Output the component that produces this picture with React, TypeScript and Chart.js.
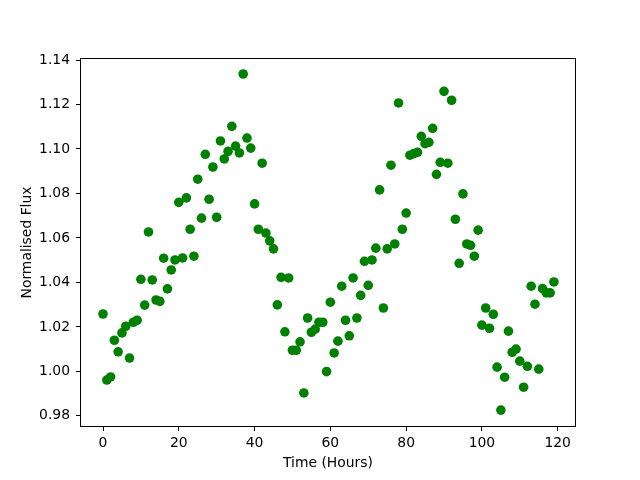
import React, { useEffect, useRef } from "react";
import { Chart, registerables } from "chart.js";

Chart.register(...registerables);

const hours: number[] = [
  0, 1, 2, 3, 4, 5, 6, 7, 8, 9, 10, 11, 12, 13, 14, 15, 16, 17, 18, 19,
  20, 21, 22, 23, 24, 25, 26, 27, 28, 29, 30, 31, 32, 33, 34, 35, 36, 37, 38, 39,
  40, 41, 42, 43, 44, 45, 46, 47, 48, 49, 50, 51, 52, 53, 54, 55, 56, 57, 58, 59,
  60, 61, 62, 63, 64, 65, 66, 67, 68, 69, 70, 71, 72, 73, 74, 75, 76, 77, 78, 79,
  80, 81, 82, 83, 84, 85, 86, 87, 88, 89, 90, 91, 92, 93, 94, 95, 96, 97, 98, 99,
  100, 101, 102, 103, 104, 105, 106, 107, 108, 109, 110, 111, 112, 113, 114, 115, 116, 117, 118, 119,
];

const flux: number[] = [
  1.0258, 0.9961, 0.9975, 1.014, 1.0088, 1.0173, 1.0203, 1.006, 1.0221, 1.023,
  1.0414, 1.0298, 1.0627, 1.0411, 1.0321, 1.0315, 1.0509, 1.0371, 1.0456, 1.0501,
  1.076, 1.051, 1.078, 1.0639, 1.0518, 1.0864, 1.0689, 1.0976, 1.0774, 1.0919,
  1.0693, 1.1036, 1.0955, 1.0989, 1.1102, 1.1013, 1.0982, 1.1337, 1.1049, 1.1004,
  1.0753, 1.0639, 1.0936, 1.0622, 1.0587, 1.0551, 1.0299, 1.0423, 1.0178, 1.042,
  1.0095, 1.0095, 1.0133, 0.9903, 1.024, 1.0176, 1.019, 1.0221, 1.0221, 0.9999,
  1.0311, 1.0083, 1.0136, 1.0383, 1.023, 1.016, 1.042, 1.024, 1.0342, 1.0495,
  1.0387, 1.0501, 1.0554, 1.0816, 1.0285, 1.0551, 1.0927, 1.0573, 1.1207, 1.0639,
  1.0712, 1.0972, 1.0979, 1.0985, 1.1057, 1.1024, 1.103, 1.1093, 1.0886, 1.094,
  1.1259, 1.0936, 1.1219, 1.0684, 1.0486, 1.0798, 1.0573, 1.0567, 1.0518, 1.0635,
  1.0208, 1.0285, 1.0194, 1.0257, 1.0019, 0.9826, 0.9974, 1.0181, 1.0086, 1.01,
  1.0046, 0.9929, 1.0023, 1.0383, 1.0302, 1.001, 1.0372, 1.0353, 1.0353, 1.0402,
];

const xLabel = "Time (Hours)";
const yLabel = "Normalised Flux";

const frame = {
  id: "frame",
  afterDraw(chart: any) {
    const { ctx, chartArea: a } = chart;
    ctx.save();
    ctx.strokeStyle = "#000";
    ctx.lineWidth = 1;
    ctx.strokeRect(a.left + 0.5, a.top + 0.5, a.right - a.left - 1, a.bottom - a.top - 1);
    ctx.restore();
  },
};

export default function App() {
  const ref = useRef<HTMLCanvasElement>(null);
  useEffect(() => {
    if (!ref.current) return;
    const font = { family: "'DejaVu Sans', sans-serif", size: 13.9 };
    const chart = new Chart(ref.current, {
      type: "scatter",
      data: {
        datasets: [
          {
            data: hours.map((h, i) => ({ x: h, y: flux[i] })),
            backgroundColor: "#008000",
            borderColor: "#008000",
            pointRadius: 4.8,
            pointBorderWidth: 0,
          },
        ],
      },
      options: {
        animation: false,
        responsive: false,
        layout: { padding: { left: 0, right: 64, top: 58, bottom: 0 } },
        plugins: { legend: { display: false }, tooltip: { enabled: false } },
        scales: {
          x: {
            type: "linear",
            min: -6.07,
            max: 124.83,
            afterFit: (s: any) => {
              s.height = 53;
            },
            border: { display: false },
            grid: { drawOnChartArea: false, drawTicks: true, tickLength: 4, color: "#000" },
            ticks: {
              stepSize: 20,
              includeBounds: false,
              color: "#000",
              font,
              padding: 4,
              maxRotation: 0,
              callback: (v: any) => String(Math.round(Number(v))),
            },
            title: { display: true, text: xLabel, color: "#000", font, padding: { top: 0, bottom: 8.6 } },
          },
          y: {
            type: "linear",
            min: 0.975,
            max: 1.1409,
            afterFit: (s: any) => {
              s.width = 80;
            },
            border: { display: false },
            grid: { drawOnChartArea: false, drawTicks: true, tickLength: 4, color: "#000" },
            ticks: {
              stepSize: 0.02,
              includeBounds: false,
              color: "#000",
              font,
              padding: 6,
              callback: (v: any) => Number(v).toFixed(2),
            },
            title: { display: true, text: yLabel, color: "#000", font, padding: { top: 18.6, bottom: 0 } },
          },
        },
      },
      plugins: [frame],
    });
    return () => chart.destroy();
  }, []);
  return (
    <div style={{ position: "absolute", left: 0, top: 0, width: 640, height: 480, background: "#fff" }}>
      <canvas ref={ref} width={640} height={480} />
    </div>
  );
}
